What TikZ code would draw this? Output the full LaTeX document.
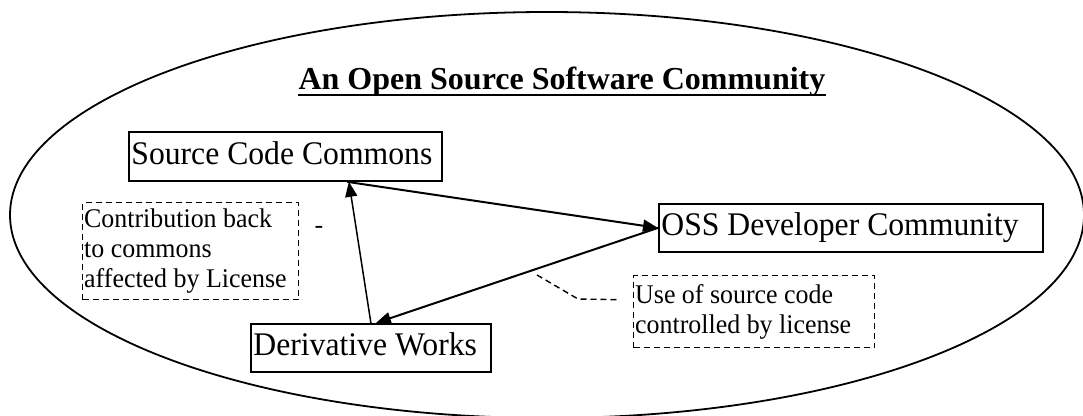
\documentclass[tikz,border=0pt]{standalone}
\usepackage{fontspec}
\setmainfont{Liberation Serif}
\newfontfamily\boxfont[FakeStretch=0.96]{Liberation Serif}
\usetikzlibrary{arrows.meta}
\begin{document}
\begin{tikzpicture}[x=1pt,y=-1pt,
  box/.style={draw, line width=1.8pt, inner xsep=2.5pt, inner ysep=0pt, align=flush left,
    font=\boxfont\fontsize{33}{38}\selectfont, text height=23pt, text depth=7pt, anchor=north west},
  note/.style={draw, dash pattern=on 6pt off 4pt, line width=1.4pt, inner xsep=1.5pt,
    inner ysep=0pt, align=flush left, font=\boxfont\fontsize{27}{30}\selectfont, anchor=north west},
  lead/.style={dash pattern=on 6pt off 4pt, line width=1.4pt},
  arr/.style={-{Triangle[length=15pt,width=12pt]}, line width=2pt}]
\useasboundingbox (0,0) rectangle (1083,415);
% community ellipse
\draw[line width=1.8pt] (547,215) ellipse [x radius=537pt, y radius=203pt];
% title
\node[inner sep=0pt, anchor=base, font=\fontsize{32}{38}\selectfont\bfseries] (title) at (562,89)
  {An Open Source Software Community};
\draw[line width=2.8pt] ([yshift=-6pt]title.base west) -- ([yshift=-6pt]title.base east);
% boxes
\node[box, text width=308pt, minimum height=49pt] (scc) at (128,131) {Source Code Commons};
\node[box, text width=379pt, minimum height=48pt] (oss) at (658,203) {OSS Developer Community};
\node[box, text width=235pt, minimum height=48pt] (dw) at (250,323) {Derivative Works};
% notes
\node[note, text width=213pt, minimum height=97pt] (contrib) at (82,202)
  {Contribution back\\to commons\\affected by License};
\node[note, text width=238pt, minimum height=72pt] (use) at (633,275)
  {Use of source code\\controlled by license};
\node[inner sep=0pt, anchor=base, font=\fontsize{26}{30}\selectfont] (hyph) at (319,233) {-};
% connectors
\draw[arr] ([xshift=61.5pt]scc.south) -- (oss.west);
\draw[arr] (oss.west) -- ([xshift=5pt]dw.north);
\draw[arr, line width=1.5pt] (dw.north) -- ([xshift=63.5pt]scc.south);
\coordinate (leadstart) at (537,275);
\draw[lead] (leadstart) -- (578,299) -- ([xshift=-13pt,yshift=12pt]use.west);
\end{tikzpicture}
\end{document}
